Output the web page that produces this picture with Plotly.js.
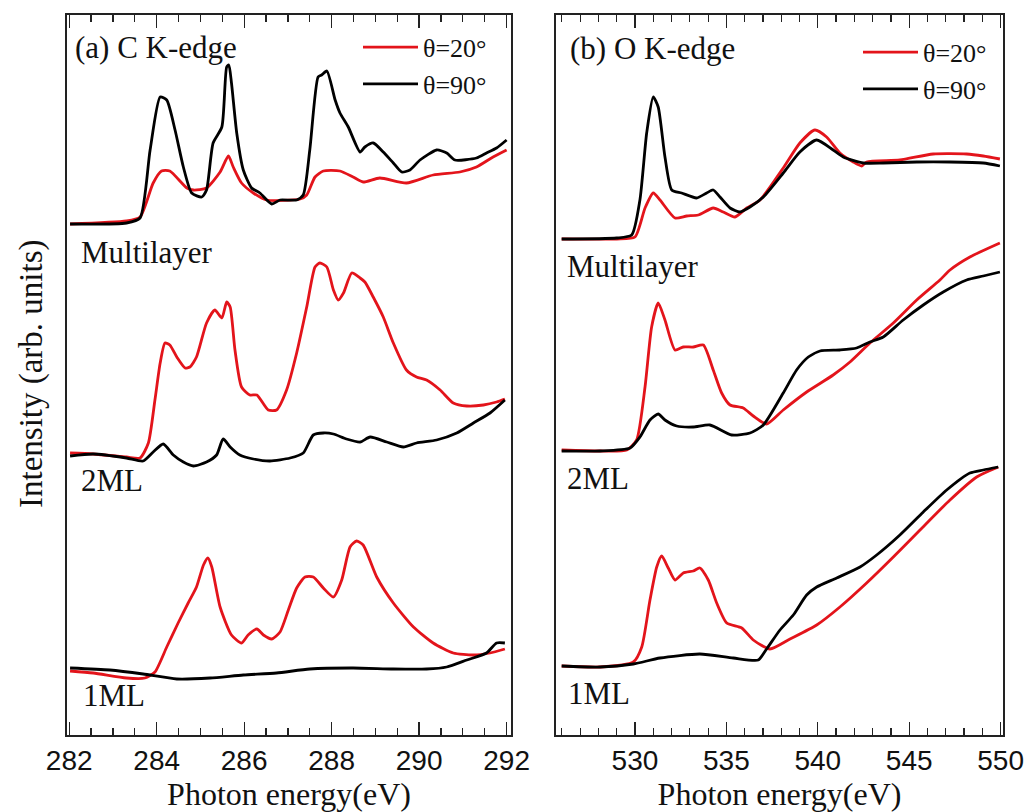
<!DOCTYPE html>
<html>
<head>
<meta charset="utf-8">
<script src="https://cdn.plot.ly/plotly-3.0.1.min.js"></script>
<style>html,body{margin:0;padding:0;background:#fff;}#chart{width:1024px;height:812px;}</style>
</head>
<body>
<div id="chart"></div>
<script>
// ---------- (a) C K-edge ----------
const c_ml_90_x = [282.02,283.31,283.62,283.85,284.08,284.23,284.42,284.61,284.80,285.03,285.14,285.29,285.49,285.60,285.65,285.71,285.83,285.98,286.17,286.36,286.63,286.82,287.20,287.35,287.50,287.69,287.77,287.89,288.08,288.19,288.38,288.65,288.76,288.95,289.18,289.41,289.60,289.79,290.02,290.40,290.63,290.82,291.31,291.54,291.77,292.00];
const c_ml_90_y = [5.11,5.12,5.17,5.85,6.38,6.35,6.05,5.68,5.42,5.38,5.45,5.92,6.08,6.68,6.70,6.52,6.02,5.65,5.47,5.42,5.31,5.35,5.35,5.40,5.85,6.58,6.60,6.64,6.35,6.22,6.08,5.83,5.88,5.92,5.83,5.72,5.63,5.65,5.75,5.85,5.82,5.75,5.77,5.82,5.87,5.95];
const c_ml_20_x = [282.02,283.31,283.62,283.92,284.11,284.30,284.69,284.84,285.14,285.45,285.64,285.75,285.94,286.21,286.51,287.28,287.43,287.62,287.81,288.19,288.49,288.72,289.10,289.71,290.32,290.93,291.31,291.69,292.00];
const c_ml_20_y = [5.11,5.14,5.18,5.52,5.64,5.64,5.47,5.45,5.47,5.63,5.79,5.68,5.52,5.42,5.35,5.36,5.40,5.58,5.64,5.64,5.58,5.53,5.57,5.52,5.60,5.63,5.68,5.78,5.85];
const c_2ml_20_x = [282.02,282.55,283.31,283.62,283.81,283.96,284.08,284.19,284.30,284.46,284.65,284.76,284.91,285.14,285.33,285.49,285.60,285.68,285.79,285.94,286.13,286.29,286.55,286.74,286.97,287.20,287.43,287.62,287.73,287.89,288.04,288.15,288.27,288.46,288.65,288.76,288.95,289.18,289.41,289.71,289.94,290.17,290.48,290.78,291.09,291.47,291.77,291.96];
const c_2ml_20_y = [2.82,2.81,2.78,2.77,2.92,3.35,3.72,3.92,3.90,3.78,3.67,3.68,3.78,4.12,4.25,4.17,4.33,4.28,3.85,3.48,3.40,3.40,3.25,3.25,3.45,3.82,4.28,4.68,4.72,4.68,4.45,4.35,4.42,4.62,4.57,4.53,4.38,4.18,3.92,3.65,3.58,3.55,3.45,3.32,3.29,3.30,3.33,3.36];
const c_2ml_90_x = [282.02,282.55,283.31,283.69,283.92,284.15,284.38,284.61,284.84,285.14,285.37,285.52,285.68,285.90,286.21,286.59,287.05,287.35,287.58,287.81,288.04,288.34,288.65,288.88,289.26,289.64,289.94,290.40,290.86,291.24,291.62,291.96];
const c_2ml_90_y = [2.79,2.81,2.77,2.74,2.83,2.91,2.80,2.73,2.69,2.73,2.80,2.96,2.88,2.80,2.76,2.74,2.77,2.82,3.00,3.02,3.01,2.96,2.93,2.98,2.93,2.88,2.92,2.95,3.02,3.12,3.22,3.35];
const c_1ml_20_x = [282.02,282.55,283.31,283.73,283.96,284.23,284.49,284.72,284.91,285.07,285.17,285.26,285.45,285.71,285.94,286.09,286.29,286.44,286.63,286.82,287.01,287.20,287.39,287.58,287.81,288.04,288.23,288.42,288.57,288.72,289.03,289.41,289.87,290.32,290.78,291.24,291.62,291.96];
const c_1ml_20_y = [0.64,0.62,0.57,0.57,0.63,0.88,1.12,1.32,1.48,1.70,1.77,1.68,1.28,1.00,0.92,1.00,1.06,1.00,0.96,1.03,1.25,1.47,1.58,1.58,1.47,1.38,1.55,1.88,1.94,1.90,1.58,1.32,1.08,0.92,0.82,0.80,0.82,0.86];
const c_1ml_90_x = [282.02,282.93,283.69,284.46,285.22,285.98,286.74,287.50,288.49,289.41,290.17,290.63,291.09,291.54,291.77,291.96];
const c_1ml_90_y = [0.67,0.65,0.61,0.56,0.57,0.60,0.62,0.66,0.67,0.66,0.66,0.68,0.75,0.82,0.92,0.92];

// ---------- (b) O K-edge ----------
const o_ml_90_x = [525.99,529.00,529.82,530.27,530.64,531.00,531.27,531.64,532.01,532.55,533.37,533.92,534.28,534.65,535.20,535.74,536.29,537.02,538.11,539.02,539.94,540.84,541.39,542.49,543.58,545.41,547.23,549.05,549.96];
const o_ml_90_y = [4.96,4.97,5.00,5.35,6.02,6.38,6.28,5.78,5.45,5.42,5.37,5.42,5.45,5.38,5.27,5.23,5.28,5.38,5.62,5.83,5.95,5.85,5.78,5.72,5.72,5.73,5.73,5.72,5.69];
const o_ml_20_x = [525.99,529.00,530.00,530.55,531.00,531.37,532.19,532.83,533.46,534.28,534.83,535.47,536.11,536.84,538.11,539.02,539.84,540.48,541.21,541.94,542.40,542.67,544.49,546.31,548.14,549.05,549.96];
const o_ml_20_y = [4.96,4.96,4.98,5.27,5.42,5.35,5.17,5.19,5.20,5.27,5.23,5.18,5.27,5.35,5.67,5.92,6.05,5.98,5.82,5.73,5.69,5.73,5.75,5.81,5.81,5.79,5.76];
const o_2ml_20_x = [525.99,528.09,529.55,530.09,530.55,530.91,531.27,531.64,532.19,532.64,533.19,533.74,534.28,534.74,535.20,535.92,536.47,537.20,538.11,539.39,540.84,541.76,542.85,544.13,545.41,546.68,547.23,548.32,549.96];
const o_2ml_20_y = [2.85,2.84,2.85,2.95,3.48,4.08,4.32,4.15,3.85,3.88,3.88,3.90,3.65,3.42,3.30,3.27,3.19,3.11,3.25,3.43,3.60,3.73,3.92,4.12,4.35,4.55,4.65,4.78,4.92];
const o_2ml_90_x = [525.99,528.09,529.73,530.27,530.82,531.27,531.64,532.28,533.19,534.10,535.29,536.29,537.02,538.11,538.84,539.48,540.12,541.21,542.12,542.85,543.58,544.67,545.77,546.86,548.14,549.05,549.96];
const o_2ml_90_y = [2.84,2.84,2.87,2.98,3.15,3.21,3.15,3.09,3.08,3.10,3.00,3.02,3.10,3.42,3.65,3.78,3.84,3.85,3.87,3.93,3.98,4.15,4.30,4.43,4.55,4.59,4.63];
const o_1ml_20_x = [525.99,528.09,529.91,530.37,530.82,531.19,531.46,531.82,532.19,532.64,533.19,533.55,534.01,534.47,535.02,535.84,536.47,537.38,538.48,539.94,541.21,542.67,544.13,545.59,547.23,548.69,549.87];
const o_1ml_20_y = [0.69,0.68,0.73,0.88,1.35,1.68,1.79,1.67,1.55,1.62,1.64,1.67,1.55,1.32,1.12,1.07,0.95,0.86,0.96,1.10,1.28,1.52,1.78,2.05,2.35,2.58,2.68];
const o_1ml_90_x = [525.99,528.09,529.91,531.37,533.55,535.38,536.74,537.20,537.93,538.66,539.39,539.94,541.03,542.31,543.22,544.49,545.77,547.05,548.32,549.05,549.87];
const o_1ml_90_y = [0.69,0.68,0.71,0.77,0.81,0.77,0.75,0.86,1.05,1.20,1.40,1.48,1.57,1.68,1.80,2.00,2.23,2.45,2.62,2.65,2.68];

const cTicks = [282,284,286,288,290,292];
const oTicks = [530,535,540,545,550];
const legendNames = ['θ=20°','θ=90°'];
const sampleLabels = ['Multilayer','2ML','1ML'];

const RED = '#e3141b', BLACK = '#000000';
const LW = 2.8;
function tr(x, y, color, xa, ya, name, show, leg) {
  return {x:x, y:y, type:'scatter', mode:'lines', line:{color:color, width:LW, shape:'spline', smoothing:0.6},
          xaxis:xa, yaxis:ya, name:name, showlegend:show, legend:leg, hoverinfo:'skip'};
}
const data = [
  tr(c_ml_20_x, c_ml_20_y, RED, 'x', 'y', legendNames[0], true, 'legend'),
  tr(c_ml_90_x, c_ml_90_y, BLACK, 'x', 'y', legendNames[1], true, 'legend'),
  tr(c_2ml_20_x, c_2ml_20_y, RED, 'x', 'y', legendNames[0], false, 'legend'),
  tr(c_2ml_90_x, c_2ml_90_y, BLACK, 'x', 'y', legendNames[1], false, 'legend'),
  tr(c_1ml_20_x, c_1ml_20_y, RED, 'x', 'y', legendNames[0], false, 'legend'),
  tr(c_1ml_90_x, c_1ml_90_y, BLACK, 'x', 'y', legendNames[1], false, 'legend'),
  tr(o_ml_20_x, o_ml_20_y, RED, 'x2', 'y2', legendNames[0], true, 'legend2'),
  tr(o_ml_90_x, o_ml_90_y, BLACK, 'x2', 'y2', legendNames[1], true, 'legend2'),
  tr(o_2ml_20_x, o_2ml_20_y, RED, 'x2', 'y2', legendNames[0], false, 'legend2'),
  tr(o_2ml_90_x, o_2ml_90_y, BLACK, 'x2', 'y2', legendNames[1], false, 'legend2'),
  tr(o_1ml_20_x, o_1ml_20_y, RED, 'x2', 'y2', legendNames[0], false, 'legend2'),
  tr(o_1ml_90_x, o_1ml_90_y, BLACK, 'x2', 'y2', legendNames[1], false, 'legend2')
];

const SERIF = 'Liberation Serif, Times New Roman, serif';
const SANS = 'Liberation Sans, Arial, sans-serif';
const frameColor = '#222';
function xax(domain, range, ticks, dminor) {
  return {domain:domain, range:range, tickmode:'array', tickvals:ticks, ticktext:ticks.map(String),
    ticks:'inside', ticklen:13, tickwidth:1.3, tickcolor:frameColor,
    minor:{ticks:'inside', dtick:dminor, ticklen:7, tickwidth:1.2, tickcolor:frameColor, showgrid:false},
    showline:true, linecolor:frameColor, linewidth:1.8, mirror:'ticks', showgrid:false, zeroline:false,
    tickfont:{family:SANS, size:28, color:'#111'},
    title:{text:'Photon energy(eV)', font:{family:SERIF, size:32, color:'#111'}, standoff:5}};
}
function yax(anchor) {
  return {domain:[0,1], range:[0,7.2], anchor:anchor, showline:true, linecolor:frameColor, linewidth:1.8,
    mirror:true, ticks:'', showticklabels:false, showgrid:false, zeroline:false};
}
const legFont = {family:SERIF, size:26, color:'#111'};
const labFont = {family:SERIF, size:31, color:'#111'};
const panFont = {family:SERIF, size:31, color:'#111'};
const layout = {
  width:1024, height:812, margin:{l:0, r:0, t:15, b:77},
  paper_bgcolor:'#fff', plot_bgcolor:'#fff', showlegend:true,
  xaxis: xax([67/1024, 511/1024], [281.95, 292.1], cTicks, 0.5),
  yaxis: yax('x'),
  xaxis2: xax([556/1024, 1003/1024], [525.68, 550.13], oTicks, 1),
  yaxis2: yax('x2'),
  legend: {x:358/1024, y:0.988, xanchor:'left', yanchor:'top', bgcolor:'rgba(0,0,0,0)', font:legFont, tracegroupgap:0, itemwidth:55},
  legend2:{x:858/1024, y:0.981, xanchor:'left', yanchor:'top', bgcolor:'rgba(0,0,0,0)', font:legFont, tracegroupgap:0, itemwidth:55},
  annotations: [
    {xref:'x', yref:'y', x:282.09, y:6.88, text:'(a) C K-edge', showarrow:false, xanchor:'left', yanchor:'middle', font:panFont},
    {xref:'x', yref:'y', x:282.22, y:4.83, text:sampleLabels[0], showarrow:false, xanchor:'left', yanchor:'middle', font:labFont},
    {xref:'x', yref:'y', x:282.22, y:2.55, text:sampleLabels[1], showarrow:false, xanchor:'left', yanchor:'middle', font:labFont},
    {xref:'x', yref:'y', x:282.26, y:0.40, text:sampleLabels[2], showarrow:false, xanchor:'left', yanchor:'middle', font:labFont},
    {xref:'x2', yref:'y2', x:526.34, y:6.87, text:'(b) O K-edge', showarrow:false, xanchor:'left', yanchor:'middle', font:panFont},
    {xref:'x2', yref:'y2', x:526.15, y:4.69, text:sampleLabels[0], showarrow:false, xanchor:'left', yanchor:'middle', font:labFont},
    {xref:'x2', yref:'y2', x:526.15, y:2.57, text:sampleLabels[1], showarrow:false, xanchor:'left', yanchor:'middle', font:labFont},
    {xref:'x2', yref:'y2', x:526.25, y:0.42, text:sampleLabels[2], showarrow:false, xanchor:'left', yanchor:'middle', font:labFont},
    {xref:'paper', yref:'y', x:31/1024, y:3.61, text:'Intensity (arb. units)', textangle:-90, showarrow:false, xanchor:'center', yanchor:'middle', font:{family:SERIF, size:33, color:'#111'}}
  ]
};
Plotly.newPlot('chart', data, layout, {displayModeBar:false, staticPlot:true});
</script>
</body>
</html>
